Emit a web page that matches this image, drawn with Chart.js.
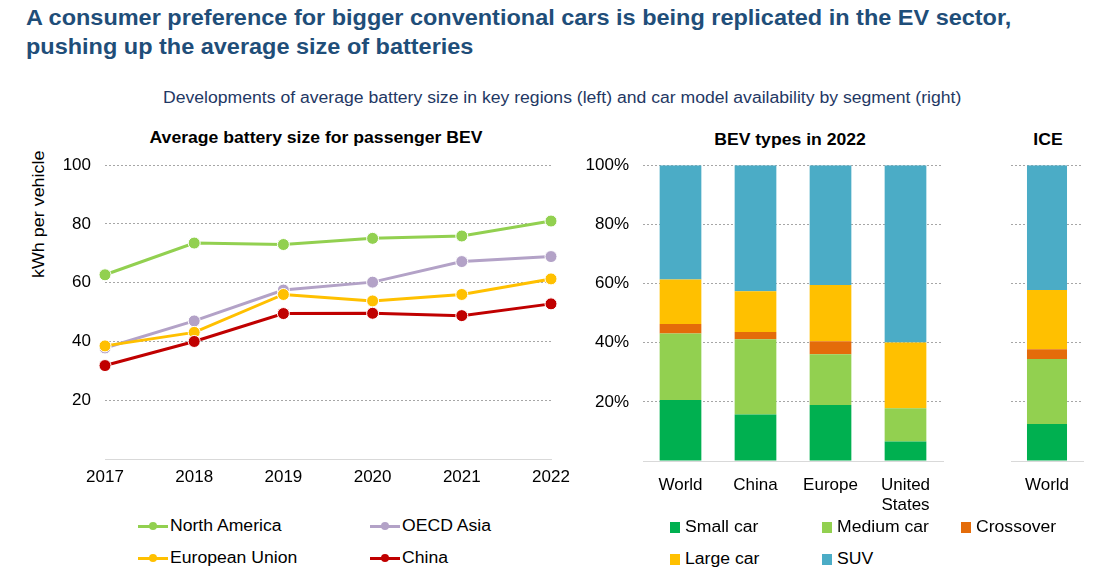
<!DOCTYPE html>
<html>
<head>
<meta charset="utf-8">
<script src="https://cdn.jsdelivr.net/npm/chart.js@4.4.0/dist/chart.umd.min.js"></script>
<style>
  body { margin: 0; background: #fff; font-family: "Liberation Sans", Arial, sans-serif; }
  #page { position: relative; width: 1104px; height: 584px; overflow: hidden; }
  .abs { position: absolute; white-space: nowrap; }
  h1 { position: absolute; left: 26px; top: 4px; margin: 0; font-size: 22px; line-height: 28.5px; font-weight: bold; color: #1f4e79; transform-origin: 0 0; transform: scaleX(1.067); white-space: nowrap; }
  .sub { left: 163px; top: 89px; font-size: 16px; color: #1f3864; transform-origin: 0 0; transform: scaleX(1.1); }
  .ctitle { font-size: 16px; font-weight: bold; color: #000; transform: translateX(-50%) scaleX(1.1); }
  .ytitle { font-size: 16px; color: #000; transform-origin: 0 0; transform: rotate(-90deg) scaleX(1.12); }
  .leg { font-size: 16px; color: #000; display: flex; align-items: center; transform-origin: 0 50%; }
  .leg .ln { position: relative; width: 30px; height: 3px; margin-right: 2px; }
  .leg .ln i { position: absolute; left: 11px; top: -3px; width: 8px; height: 8px; border-radius: 50%; }
  .leg .sq { width: 10px; height: 11px; margin-right: 5px; }
  .leg b { font-weight: normal; display: inline-block; transform-origin: 0 50%; transform: scaleX(1.1); }
  canvas { position: absolute; }
</style>
</head>
<body>
<div id="page">
  <h1>A consumer preference for bigger conventional cars is being replicated in the EV sector,<br>pushing up the average size of batteries</h1>
  <div class="abs sub">Developments of average battery size in key regions (left) and car model availability by segment (right)</div>

  <div class="abs ctitle" style="left:316px; top:129px;">Average battery size for passenger BEV</div>
  <div class="abs ctitle" style="left:790px; top:131px;">BEV types in 2022</div>
  <div class="abs ctitle" style="left:1048px; top:131px;">ICE</div>
  <div class="abs ytitle" style="left:30px; top:278px;">kWh per vehicle</div>

  <div style="position:absolute; left:0; top:141px; width:590px; height:354px;"><canvas id="lineChart"></canvas></div>
  <div style="position:absolute; left:580px; top:141px; width:375px; height:379px;"><canvas id="bevChart"></canvas></div>
  <div style="position:absolute; left:995px; top:141px; width:100px; height:379px;"><canvas id="iceChart"></canvas></div>

  <div id="lineLegend"></div>
  <div id="barLegend"></div>
</div>

<script>
// ---- data ----
const years = ['2017', '2018', '2019', '2020', '2021', '2022'];
const northAmerica = [62.7, 73.5, 73, 75.1, 75.9, 81];
const oecdAsia = [37.8, 47, 57.5, 60.2, 67.2, 68.9];
const europeanUnion = [38.5, 43.1, 56, 53.8, 56, 61.3];
const china = [31.8, 40, 49.5, 49.6, 48.8, 52.8];

const bevRegions = ['World', 'China', 'Europe', ['United', 'States']];
const iceRegions = ['World'];
const segments = ['Small car', 'Medium car', 'Crossover', 'Large car', 'SUV'];
const bevSmall = [20.6, 15.7, 18.9, 6.6];
const bevMedium = [22.5, 25.5, 17.2, 11.2];
const bevCrossover = [3.2, 2.4, 4.4, 0];
const bevLarge = [15.1, 13.8, 19, 22.3];
const bevSuv = [38.6, 42.6, 40.5, 59.9];
const iceSmall = [12.5];
const iceMedium = [22];
const iceCrossover = [3.3];
const iceLarge = [20];
const iceSuv = [42.2];

const yTicks = [0, 20, 40, 60, 80, 100];

// ---- styling ----
const FONT = '"Liberation Sans", Arial, sans-serif';
const GRID = '#a6a6a6';
const BASE = '#d9d9d9';
const lineColors = ['#92d050', '#b3a2c7', '#ffc000', '#c00000'];
const segColors = ['#00b050', '#92d050', '#e46c0a', '#ffc000', '#4bacc6'];

Chart.defaults.font.family = FONT;
Chart.defaults.font.size = 17;
Chart.defaults.color = '#000';
Chart.defaults.animation = false;

function yScale(width, tickCb, tickColor) {
  return {
    min: 0, max: 100,
    afterBuildTicks: (s) => { s.ticks = yTicks.map(v => ({ value: v })); },
    afterFit: (s) => { s.width = width; },
    grid: { drawTicks: false, color: (c) => c.tick && c.tick.value === 0 ? 'rgba(0,0,0,0)' : GRID },
    border: { display: false, dash: [2, 2] },
    ticks: { padding: 14, color: tickColor, callback: tickCb }
  };
}

function xScale(height, padding) {
  return {
    afterFit: (s) => { s.height = height; },
    grid: { display: false },
    border: { display: true, color: BASE, width: 1 },
    ticks: { padding: padding, maxRotation: 0, autoSkip: false }
  };
}

// ---- line chart ----
const lineSeries = [
  ['North America', northAmerica],
  ['OECD Asia', oecdAsia],
  ['European Union', europeanUnion],
  ['China', china]
];

new Chart(document.getElementById('lineChart'), {
  type: 'line',
  data: {
    labels: years,
    datasets: lineSeries.map(([label, data], i) => ({
      label, data,
      order: 4 - i,
      borderColor: lineColors[i],
      backgroundColor: lineColors[i],
      borderWidth: 3,
      pointRadius: 6,
      pointBorderColor: '#fff',
      pointBorderWidth: 1,
      tension: 0
    }))
  },
  options: {
    responsive: true,
    maintainAspectRatio: false,
    layout: { padding: { left: 0, right: 39, top: 0, bottom: 0 } },
    plugins: { legend: { display: false }, tooltip: { enabled: false } },
    scales: {
      x: { ...xScale(36, 0), offset: false },
      y: yScale(105, (v) => v === 0 ? '' : v, '#000')
    }
  }
});

// ---- bar charts ----
function barDatasets(values) {
  return segments.map((label, i) => ({
    label, data: values[i],
    backgroundColor: segColors[i],
    borderWidth: 0,
    categoryPercentage: 1,
    barPercentage: 0.556
  }));
}

function barOptions(yWidth, padRight, tickColor) {
  return {
    responsive: true,
    maintainAspectRatio: false,
    layout: { padding: { left: 0, right: padRight, top: 0, bottom: 0 } },
    plugins: { legend: { display: false }, tooltip: { enabled: false } },
    scales: {
      x: { ...xScale(59, 6), stacked: true },
      y: { ...yScale(yWidth, (v) => v === 0 ? '' : v + '%', tickColor), stacked: true }
    }
  };
}

new Chart(document.getElementById('bevChart'), {
  type: 'bar',
  data: { labels: bevRegions, datasets: barDatasets([bevSmall, bevMedium, bevCrossover, bevLarge, bevSuv]) },
  options: barOptions(63, 12, '#000')
});

new Chart(document.getElementById('iceChart'), {
  type: 'bar',
  data: { labels: iceRegions, datasets: barDatasets([iceSmall, iceMedium, iceCrossover, iceLarge, iceSuv]) },
  options: barOptions(16, 12, 'rgba(0,0,0,0)')
});

// ---- HTML legends ----
const lineLegendPos = [[138, 517], [370, 517], [138, 549], [370, 549]];
document.getElementById('lineLegend').innerHTML = lineSeries.map(([label], i) =>
  `<div class="abs leg" style="left:${lineLegendPos[i][0]}px; top:${lineLegendPos[i][1]}px;">` +
  `<span class="ln" style="background:${lineColors[i]}"><i style="background:${lineColors[i]}"></i></span><b>${label}</b></div>`
).join('');

const barLegendPos = [[670, 518], [822, 518], [961, 518], [670, 550], [822, 550]];
document.getElementById('barLegend').innerHTML = segments.map((label, i) =>
  `<div class="abs leg" style="left:${barLegendPos[i][0]}px; top:${barLegendPos[i][1]}px;">` +
  `<span class="sq" style="background:${segColors[i]}"></span><b>${label}</b></div>`
).join('');
</script>
</body>
</html>
